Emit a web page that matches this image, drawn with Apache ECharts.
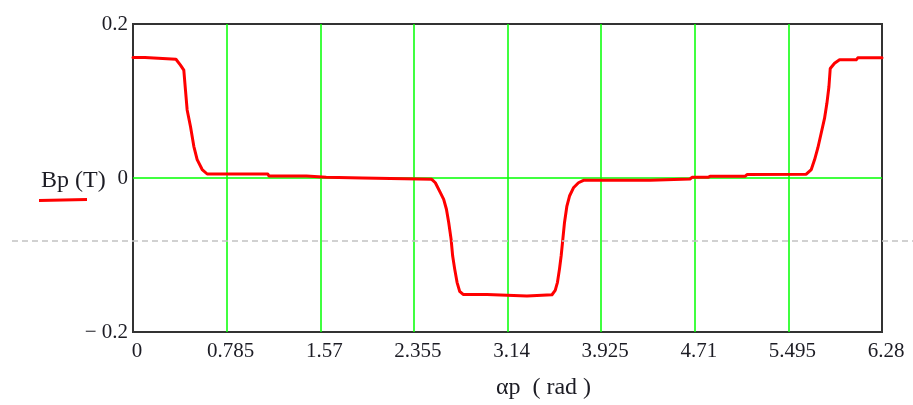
<!DOCTYPE html>
<html>
<head>
<meta charset="utf-8">
<title>Bp (T) vs αp (rad)</title>
<script src="https://cdn.jsdelivr.net/npm/echarts@6/dist/echarts.min.js"></script>
<style>
  html, body { margin: 0; padding: 0; background: #ffffff; }
  #chart { width: 913px; height: 405px; }
</style>
</head>
<body>
<div id="chart"></div>
<script>
// Angle along the pole pitch, rad
const alphaRad = [
  0.000, 0.100, 0.105, 0.360, 0.398, 0.426, 0.440, 0.454, 0.482, 0.510,
  0.538, 0.580, 0.622, 1.130, 1.140, 1.455, 1.462, 1.620, 1.630, 1.925,
  1.935, 2.505, 2.535, 2.577, 2.605, 2.628, 2.647, 2.667, 2.680, 2.697,
  2.717, 2.739, 2.768, 2.968, 2.981, 3.303, 3.317, 3.513, 3.540, 3.559,
  3.576, 3.590, 3.604, 3.618, 3.638, 3.660, 3.693, 3.735, 3.777, 4.336,
  4.352, 4.670, 4.687, 4.821, 4.838, 5.131, 5.148, 5.645, 5.687, 5.715,
  5.742, 5.770, 5.798, 5.818, 5.835, 5.846, 5.882, 5.924, 6.064, 6.077,
  6.280
];

// Flux density Bp, T
const bpTesla = [
  0.1564, 0.1564, 0.1542, 0.1542, 0.1465, 0.1400, 0.1140, 0.0884, 0.0668, 0.0411,
  0.0239, 0.0110, 0.0052, 0.0052, 0.0025, 0.0025, 0.0011, 0.0011, 0.0000, 0.0000,
  -0.0017, -0.0017, -0.0062, -0.0190, -0.0277, -0.0406, -0.0577, -0.0794, -0.1010, -0.1180,
  -0.1355, -0.1473, -0.1512, -0.1512, -0.1533, -0.1533, -0.1516, -0.1516, -0.1460, -0.1355,
  -0.1180, -0.1010, -0.0794, -0.0577, -0.0364, -0.0234, -0.0127, -0.0062, -0.0030, -0.0030,
  -0.0013, -0.0013, 0.0009, 0.0009, 0.0022, 0.0022, 0.0045, 0.0050, 0.0110, 0.0239,
  0.0390, 0.0581, 0.0774, 0.0970, 0.1185, 0.1422, 0.1490, 0.1535, 0.1535, 0.1561,
  0.1561
];

// Axis tick labels
const xTickLabels = ['0', '0.785', '1.57', '2.355', '3.14', '3.925', '4.71', '5.495', '6.28'];
const yTickLabels = ['\u2212 0.2', '0', '0.2'];

// Dashed reference level, T
const markerLevel = [-0.081];

const X_STEP = 0.785;
const Y_STEP = 0.2;
const SERIF = '"Liberation Serif", "Times New Roman", serif';
const TEXT_COLOR = '#1c1c24';
const GRID_GREEN = '#00ff00';

const curve = alphaRad.map((a, i) => [a, bpTesla[i]]);

const chart = echarts.init(document.getElementById('chart'), null, { renderer: 'canvas' });

chart.setOption({
  animation: false,
  backgroundColor: '#ffffff',
  grid: [
    {
      left: 133, right: 31, top: 24, bottom: 71,
      show: true,
      borderColor: '#333333',
      borderWidth: 2,
      backgroundColor: 'transparent'
    },
    {
      left: 12, right: 0, top: 24, bottom: 71,
      show: false
    }
  ],
  xAxis: [
    {
      type: 'value',
      gridIndex: 0,
      min: 0,
      max: 6.28,
      interval: X_STEP,
      axisLine: { show: false },
      axisTick: { show: false },
      splitLine: {
        show: true,
        showMinLine: false,
        showMaxLine: false,
        lineStyle: { color: GRID_GREEN, width: 1.5 }
      },
      axisLabel: {
        margin: 9,
        padding: [0, 0, 0, 8],
        fontFamily: SERIF,
        fontSize: 21,
        color: TEXT_COLOR,
        formatter: v => xTickLabels[Math.round(v / X_STEP)]
      },
      name: '\u03b1p  ( rad )',
      nameLocation: 'middle',
      nameGap: 44,
      nameTextStyle: {
        fontFamily: SERIF,
        fontSize: 24,
        color: TEXT_COLOR,
        padding: [0, 0, 0, 72]
      }
    },
    {
      type: 'value',
      gridIndex: 1,
      min: 0,
      max: 1,
      show: false
    }
  ],
  yAxis: [
    {
      type: 'value',
      gridIndex: 0,
      min: -0.2,
      max: 0.2,
      interval: Y_STEP,
      axisLine: { show: false },
      axisTick: { show: false },
      splitLine: {
        show: true,
        showMinLine: false,
        showMaxLine: false,
        lineStyle: { color: GRID_GREEN, width: 1.5 }
      },
      axisLabel: {
        margin: 5,
        padding: [7, 0, 0, 0],
        fontFamily: SERIF,
        fontSize: 21,
        color: TEXT_COLOR,
        formatter: v => yTickLabels[Math.round((v + 0.2) / Y_STEP)]
      }
    },
    {
      type: 'value',
      gridIndex: 1,
      min: -0.2,
      max: 0.2,
      show: false
    }
  ],
  series: [
    {
      name: 'reference level',
      type: 'line',
      xAxisIndex: 1,
      yAxisIndex: 1,
      data: [],
      z: 1,
      silent: true,
      markLine: {
        silent: true,
        symbol: ['none', 'none'],
        label: { show: false },
        lineStyle: { color: '#c2c2c2', width: 1.5, type: [6, 4] },
        data: markerLevel.map(v => ({ yAxis: v }))
      }
    },
    {
      name: 'Bp',
      type: 'line',
      xAxisIndex: 0,
      yAxisIndex: 0,
      data: curve,
      z: 3,
      showSymbol: false,
      smooth: false,
      lineStyle: { color: '#ff0000', width: 3, join: 'round', cap: 'round' }
    }
  ],
  graphic: [
    {
      type: 'text',
      left: 41,
      top: 169,
      z: 10,
      style: {
        text: 'Bp (T)',
        font: '24px ' + SERIF,
        fill: TEXT_COLOR
      }
    },
    {
      type: 'line',
      z: 10,
      shape: { x1: 39, y1: 200.5, x2: 87, y2: 199.5 },
      style: { stroke: '#ff0000', lineWidth: 3 }
    }
  ]
});
</script>
</body>
</html>
